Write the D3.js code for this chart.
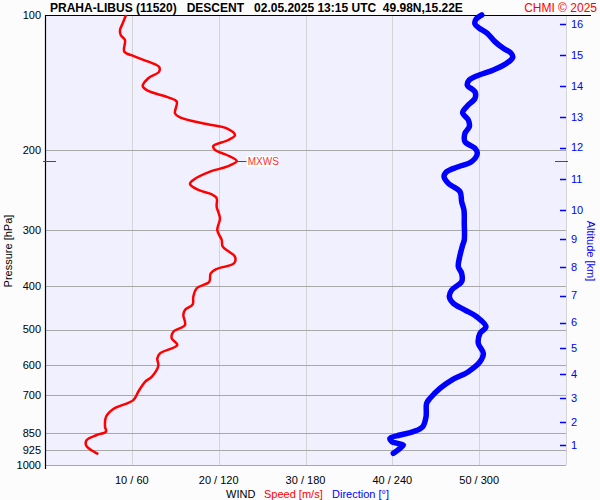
<!DOCTYPE html>
<html>
<head>
<meta charset="utf-8">
<script src="https://cdn.jsdelivr.net/npm/d3@7"></script>
<style>
  html, body { margin: 0; padding: 0; background: #ffffff; }
  svg { display: block; font-family: "Liberation Sans", Arial, sans-serif; }
</style>
</head>
<body>
<svg id="chart" width="600" height="500"></svg>
<script>
// ---- data ----
const pressureTicks = [200, 300, 400, 500, 600, 700, 850, 925, 1000];
const pressureLabels = [100, 200, 300, 400, 500, 600, 700, 850, 925, 1000];
const speedTicks = [10, 20, 30, 40, 50];
const dirTicks = [60, 120, 180, 240, 300];
const altKm = [1, 2, 3, 4, 5, 6, 7, 8, 9, 10, 11, 12, 13, 14, 15, 16];
const altP = [904.3, 801.4, 708.9, 627.8, 550.4, 482.5, 420.1, 364.0, 315.4, 271.3, 231.4, 197.0, 168.5, 143.8, 122.7, 104.7];

const speedP = [100, 104.3, 108.0, 110.8, 113.7, 120.6, 123.3, 127.0, 130.3, 133.7, 138.2, 143.8, 147.5, 152.4, 155.8, 165.4, 168.8, 174.7, 178.6, 184.8, 189.6, 195.5, 199.5, 204.7, 211.1, 217.3, 222.9, 232.6, 237.4, 244.8, 250.2, 255.4, 266.7, 283.0, 300.5, 316.2, 327.3, 344.5, 356.3, 366.8, 375.0, 391.4, 404.8, 422.7, 439.5, 452.5, 464.2, 488.5, 505.5, 523.0, 541.3, 564.9, 579.6, 601.9, 636.8, 653.2, 687.5, 717.3, 750.9, 781.1, 822.1, 843.4, 857.8, 880.0, 902.9, 922.9, 945.4];
const speedV = [9.33, 8.95, 8.64, 8.72, 9.21, 9.13, 10.17, 11.90, 13.13, 13.13, 11.90, 11.25, 11.90, 14.20, 15.17, 14.97, 15.55, 18.62, 20.93, 21.88, 21.11, 19.38, 19.58, 20.93, 22.08, 20.93, 19.00, 17.08, 16.70, 17.66, 19.20, 19.77, 19.77, 20.15, 19.84, 20.35, 20.47, 21.88, 21.77, 19.77, 19.08, 18.92, 17.47, 17.08, 17.01, 16.12, 15.93, 16.12, 14.78, 14.59, 15.24, 13.24, 12.93, 13.05, 12.29, 11.52, 10.74, 10.17, 7.87, 7.03, 6.91, 7.03, 5.95, 4.80, 4.72, 5.18, 6.14];

const dirP = [100, 102.2, 104.7, 107.0, 109.8, 114.6, 118.6, 121.3, 124.2, 128.0, 132.5, 136.6, 139.4, 143.1, 148.1, 153.2, 159.3, 164.9, 171.1, 177.1, 183.2, 191.2, 197.8, 203.0, 211.8, 217.3, 222.9, 228.7, 236.6, 247.0, 260.0, 271.3, 290.4, 316.2, 324.4, 347.3, 362.5, 375.0, 391.4, 408.4, 422.7, 437.2, 452.5, 468.3, 492.8, 509.7, 536.5, 564.7, 589.5, 620.4, 647.6, 675.6, 711.1, 729.6, 780.9, 822.0, 843.3, 857.7, 872.4, 887.7, 902.9, 918.3, 942.0];
const dirV = [301.8, 297.8, 297.1, 300.1, 305.6, 310.9, 316.7, 321.8, 323.2, 319.0, 309.8, 298.3, 293.2, 291.8, 297.1, 297.1, 291.8, 288.6, 292.5, 293.2, 290.2, 290.2, 297.1, 298.7, 294.8, 285.6, 277.6, 275.7, 278.7, 286.8, 287.9, 289.5, 289.7, 289.7, 288.6, 286.3, 285.6, 287.9, 287.9, 281.0, 279.4, 282.1, 290.2, 298.3, 304.7, 300.6, 299.4, 302.9, 300.6, 292.5, 281.0, 272.9, 266.0, 263.7, 263.3, 261.0, 254.5, 245.3, 238.4, 239.6, 247.6, 245.3, 240.7];

const mxwsP = 211.1;
const mxwsV = 22.08;

const titleText = "PRAHA-LIBUS (11520)   DESCENT   02.05.2025 13:15 UTC  49.98N,15.22E";
const creditText = "CHMI \u00A9 2025";

// ---- layout ----
const L = 45, R = 566, T = 15, B = 465;
const svg = d3.select("#chart");

const y = d3.scaleLog().domain([100, 1000]).range([T, B]);
const xs = d3.scaleLinear().domain([0, 60]).range([L, R]);
const xd = d3.scaleLinear().domain([0, 360]).range([L, R]);

// background
svg.append("rect").attr("x", 0).attr("y", 0).attr("width", 600).attr("height", 500).attr("fill", "#fcfcfc");
svg.append("rect").attr("x", L).attr("y", T).attr("width", R - L).attr("height", B - T).attr("fill", "#f0f0ff");

// vertical grid
svg.append("g").selectAll("line").data(speedTicks).join("line")
  .attr("x1", d => Math.round(xs(d)) + 0.5).attr("x2", d => Math.round(xs(d)) + 0.5)
  .attr("y1", T).attr("y2", B)
  .attr("stroke", "#d4d4d4").attr("stroke-width", 1);
// right border
svg.append("line").attr("x1", R + 0.5).attr("x2", R + 0.5).attr("y1", T).attr("y2", B)
  .attr("stroke", "#d4d4d4");

// horizontal grid
svg.append("g").selectAll("line").data(pressureTicks).join("line")
  .attr("x1", L).attr("x2", R)
  .attr("y1", d => Math.round(y(d)) + 0.5).attr("y2", d => Math.round(y(d)) + 0.5)
  .attr("stroke", "#a8a8a8").attr("stroke-width", 1);

// top line and left axis
svg.append("line").attr("x1", L).attr("x2", 591).attr("y1", T + 0.5).attr("y2", T + 0.5)
  .attr("stroke", "#000").attr("stroke-width", 1.2);
svg.append("line").attr("x1", L + 0.5).attr("x2", L + 0.5).attr("y1", T).attr("y2", 469)
  .attr("stroke", "#000").attr("stroke-width", 1.2);

// left labels
svg.append("g").selectAll("text").data(pressureLabels).join("text")
  .attr("x", 41).attr("y", d => y(d)).attr("dy", "0.35em")
  .attr("text-anchor", "end").attr("font-size", 11).attr("fill", "#000")
  .text(d => d);
svg.append("text").attr("transform", "translate(12,251) rotate(-90)")
  .attr("text-anchor", "middle").attr("font-size", 11).attr("fill", "#000")
  .text("Pressure [hPa]");

// bottom labels
svg.append("g").selectAll("text").data(speedTicks).join("text")
  .attr("x", (d, i) => xs(d)).attr("y", 484)
  .attr("text-anchor", "middle").attr("font-size", 11).attr("fill", "#000")
  .text((d, i) => d + " / " + dirTicks[i]);
const leg = svg.append("text").attr("y", 498).attr("font-size", 11);
leg.append("tspan").attr("x", 226).attr("fill", "#000").text("WIND");
leg.append("tspan").attr("x", 264).attr("fill", "#ff0000").text("Speed [m/s]");
leg.append("tspan").attr("x", 332).attr("fill", "#0000ff").text("Direction [\u00B0]");

// right altitude axis
const ag = svg.append("g");
ag.selectAll("line").data(altP).join("line")
  .attr("x1", 560).attr("x2", 566)
  .attr("y1", d => Math.round(y(d)) + 0.5).attr("y2", d => Math.round(y(d)) + 0.5)
  .attr("stroke", "#0000ff").attr("stroke-width", 1.5);
ag.selectAll("text").data(altKm).join("text")
  .attr("x", 571).attr("y", (d, i) => y(altP[i])).attr("dy", "0.35em")
  .attr("font-size", 11).attr("fill", "#0000ff")
  .text(d => d);
svg.append("text").attr("transform", "translate(587,251) rotate(90)")
  .attr("text-anchor", "middle").attr("font-size", 11).attr("fill", "#0000ff")
  .text("Altitude [km]");

// title
svg.append("text").attr("x", 50).attr("y", 12).attr("font-size", 12).attr("font-weight", "bold")
  .attr("fill", "#000").style("white-space", "pre").attr("xml:space", "preserve")
  .text(titleText);
svg.append("text").attr("x", 597).attr("y", 12).attr("font-size", 12).attr("text-anchor", "end")
  .attr("fill", "#ff0000").text(creditText);

// curves
const dirLine = d3.line().x(d => xd(d[1])).y(d => y(d[0])).curve(d3.curveCatmullRom.alpha(0.5));
svg.append("path").datum(dirP.map((p, i) => [p, dirV[i]]))
  .attr("d", dirLine).attr("fill", "none").attr("stroke", "#0000ff")
  .attr("stroke-width", 5.5).attr("stroke-linejoin", "round").attr("stroke-linecap", "round");

const spLine = d3.line().x(d => xs(d[1])).y(d => y(d[0])).curve(d3.curveCatmullRom.alpha(0.5));
svg.append("path").datum(speedP.map((p, i) => [p, speedV[i]]))
  .attr("d", spLine).attr("fill", "none").attr("stroke", "#ff0000")
  .attr("stroke-width", 2.5).attr("stroke-linejoin", "round");

// MXWS markers
const my = Math.round(y(mxwsP)) + 0.5;
svg.append("line").attr("x1", 43).attr("x2", 56).attr("y1", my).attr("y2", my).attr("stroke", "#ff0000").attr("stroke-width", 1);
svg.append("line").attr("x1", 555).attr("x2", 568).attr("y1", my).attr("y2", my).attr("stroke", "#ff0000").attr("stroke-width", 1);
svg.append("line").attr("x1", xs(mxwsV)).attr("x2", xs(mxwsV) + 10).attr("y1", my).attr("y2", my).attr("stroke", "#ff0000").attr("stroke-width", 1);
svg.append("rect").attr("x", xs(mxwsV) + 10).attr("y", my - 5.5).attr("width", 31).attr("height", 11).attr("fill", "#ffffff");
svg.append("text").attr("x", xs(mxwsV) + 11).attr("y", my).attr("dy", "0.36em")
  .attr("font-size", 10).attr("fill", "#ff3030").text("MXWS");
</script>
</body>
</html>
